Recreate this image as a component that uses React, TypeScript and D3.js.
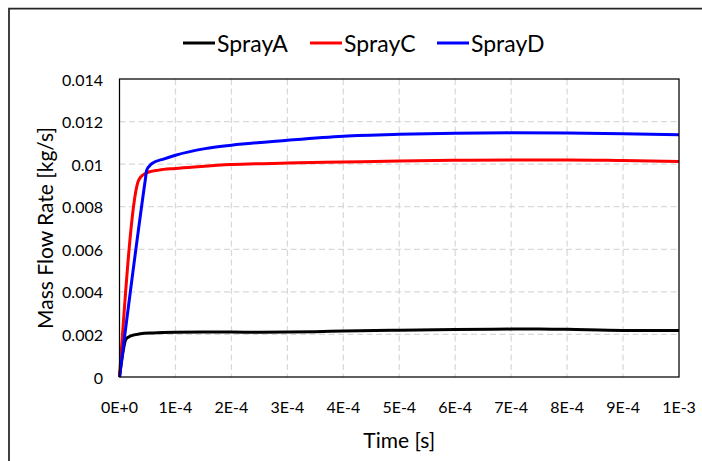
import React from "react";
import * as d3 from "d3";

// Time axis (seconds) and mass flow rate (kg/s) for each spray case
const sprayATime = [0, 0.12e-4, 0.2e-4, 0.37e-4, 0.6e-4, 1e-4, 1.5e-4, 2e-4, 2.5e-4, 3e-4, 3.5e-4, 4e-4, 5e-4, 6e-4, 7e-4, 7.5e-4, 8e-4, 9e-4, 1e-3];
const sprayAFlow = [0, 0.0018, 0.00193, 0.00203, 0.00207, 0.0021, 0.00211, 0.00211, 0.0021, 0.00211, 0.00213, 0.00216, 0.0022, 0.00223, 0.00225, 0.00226, 0.00224, 0.00219, 0.00219];

const sprayCTime = [0, 0.33e-4, 0.38e-4, 0.46e-4, 0.7e-4, 1e-4, 1.4e-4, 2e-4, 3e-4, 4e-4, 5e-4, 6e-4, 7e-4, 8e-4, 9e-4, 1e-3];
const sprayCFlow = [0, 0.00916, 0.0094, 0.00956, 0.00972, 0.0098, 0.00988, 0.00998, 0.01005, 0.0101, 0.01015, 0.01018, 0.0102, 0.0102, 0.01017, 0.01013];

const sprayDTime = [0, 0.46e-4, 0.485e-4, 0.53e-4, 0.58e-4, 0.8e-4, 1e-4, 1.53e-4, 2e-4, 3e-4, 4e-4, 5e-4, 6e-4, 7e-4, 8e-4, 9e-4, 1e-3];
const sprayDFlow = [0, 0.00924, 0.0097, 0.0099, 0.01003, 0.01025, 0.01042, 0.01073, 0.01089, 0.01112, 0.01131, 0.0114, 0.01145, 0.01147, 0.01146, 0.01143, 0.01138];

const seriesNames = ["SprayA", "SprayC", "SprayD"];
const seriesColors = ["#000000", "#ff0000", "#0000ff"];

const xTickValues = [0, 1e-4, 2e-4, 3e-4, 4e-4, 5e-4, 6e-4, 7e-4, 8e-4, 9e-4, 1e-3];
const xTickLabels = ["0E+0", "1E-4", "2E-4", "3E-4", "4E-4", "5E-4", "6E-4", "7E-4", "8E-4", "9E-4", "1E-3"];
const yTickValues = [0, 0.002, 0.004, 0.006, 0.008, 0.01, 0.012, 0.014];
const yTickLabels = ["0", "0.002", "0.004", "0.006", "0.008", "0.01", "0.012", "0.014"];

const W = 702;
const H = 461;
const plot = { left: 119.5, right: 679, top: 79, bottom: 377 };
const FONT = "Lato, 'Open Sans', sans-serif";

export default function App() {
  const x = d3.scaleLinear().domain([0, 1e-3]).range([plot.left, plot.right]);
  const y = d3.scaleLinear().domain([0, 0.014]).range([plot.bottom, plot.top]);

  const series = [
    { t: sprayATime, v: sprayAFlow },
    { t: sprayCTime, v: sprayCFlow },
    { t: sprayDTime, v: sprayDFlow },
  ];

  const line = d3
    .line<[number, number]>()
    .x((d) => x(d[0]))
    .y((d) => y(d[1]))
    .curve(d3.curveMonotoneX);

  const legendX = [183, 310, 437];

  return (
    <svg
      width={W}
      height={H}
      style={{ position: "absolute", left: 0, top: 0, background: "#fff" }}
      fontFamily={FONT}
    >
      <rect x={0} y={0} width={W} height={H} fill="#fff" />
      {/* outer chart frame */}
      <path d={`M9,${H} V8.5 H${W}`} fill="none" stroke="#262626" strokeWidth={1.75} />

      {/* gridlines */}
      {yTickValues.slice(1, -1).map((v) => (
        <line
          key={"gy" + v}
          x1={plot.left}
          x2={plot.right}
          y1={y(v)}
          y2={y(v)}
          stroke="#d9d9d9"
          strokeWidth={1.25}
          strokeDasharray="6,3.5"
        />
      ))}
      {xTickValues.slice(1, -1).map((v) => (
        <line
          key={"gx" + v}
          x1={x(v)}
          x2={x(v)}
          y1={plot.top}
          y2={plot.bottom}
          stroke="#d9d9d9"
          strokeWidth={1.25}
          strokeDasharray="6,3.5"
        />
      ))}

      {/* data lines */}
      {series.map((s, i) => (
        <path
          key={seriesNames[i]}
          d={line(s.t.map((t, j) => [t, s.v[j]] as [number, number])) || ""}
          fill="none"
          stroke={seriesColors[i]}
          strokeWidth={3}
          strokeLinejoin="round"
        />
      ))}

      {/* plot border */}
      <rect
        x={plot.left}
        y={plot.top}
        width={plot.right - plot.left}
        height={plot.bottom - plot.top}
        fill="none"
        stroke="#000"
        strokeWidth={1.25}
      />

      {/* y tick labels */}
      {yTickValues.map((v, i) => (
        <text
          key={"yl" + v}
          x={103}
          y={y(v)}
          textAnchor="end"
          dominantBaseline="central"
          fontSize={16}
          fill="#000"
        >
          {yTickLabels[i]}
        </text>
      ))}

      {/* x tick labels */}
      {xTickValues.map((v, i) => (
        <text
          key={"xl" + v}
          x={x(v)}
          y={406}
          textAnchor="middle"
          dominantBaseline="central"
          fontSize={16}
          fill="#000"
        >
          {xTickLabels[i]}
        </text>
      ))}

      {/* axis titles */}
      <text x={(plot.left + plot.right) / 2} y={439} textAnchor="middle" dominantBaseline="central" fontSize={21} fill="#000">
        Time [s]
      </text>
      <text
        transform={`translate(44,${(plot.top + plot.bottom) / 2}) rotate(-90)`}
        textAnchor="middle"
        dominantBaseline="central"
        fontSize={21}
        fill="#000"
      >
        Mass Flow Rate [kg/s]
      </text>

      {/* legend */}
      {seriesNames.map((name, i) => (
        <g key={"lg" + name} transform={`translate(${legendX[i]},43)`}>
          <line x1={0} x2={32} y1={0} y2={0} stroke={seriesColors[i]} strokeWidth={3} />
          <text x={34} y={0} dominantBaseline="central" fontSize={23} fill="#000">
            {name}
          </text>
        </g>
      ))}
    </svg>
  );
}
